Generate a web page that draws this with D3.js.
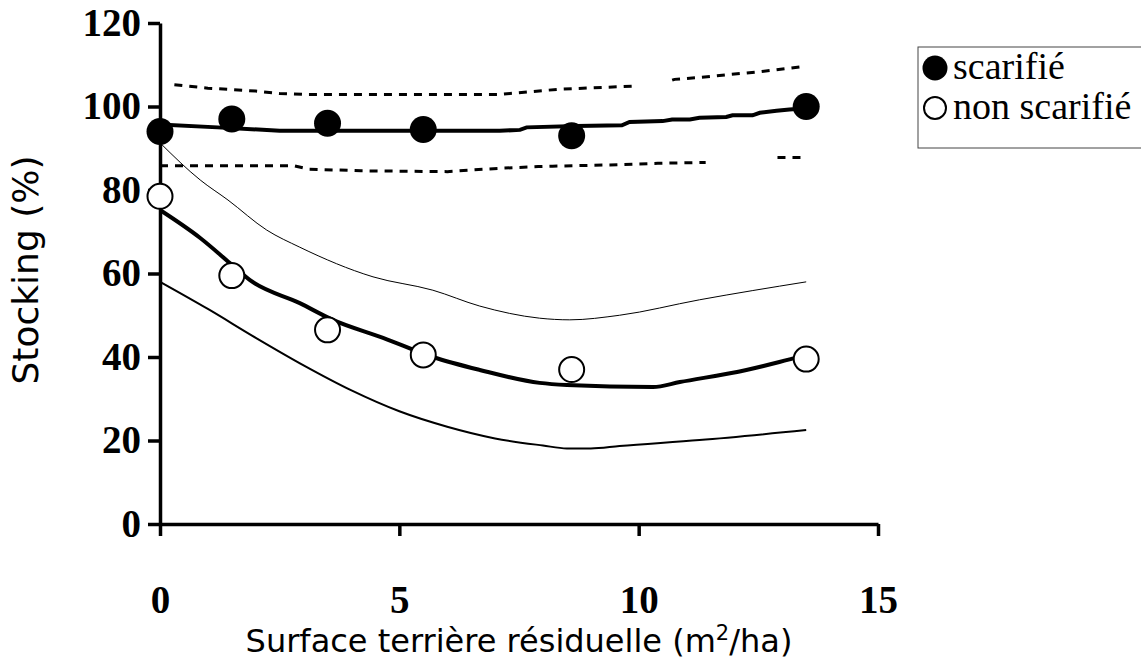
<!DOCTYPE html>
<html>
<head>
<meta charset="utf-8">
<script src="https://cdn.jsdelivr.net/npm/d3@7"></script>
<style>
  body { margin: 0; background: #fff; }
  svg { display: block; }
</style>
</head>
<body>
<div id="chart"></div>
<script>
// Observations
var xObs = [0, 1.5, 3.5, 5.5, 8.6, 13.5];
var scarObs = [94, 97, 96, 94.5, 93, 100];
var nonScarObs = [78.5, 59.5, 46.5, 40.5, 37, 39.5];

// Fit scarifié (thick)
var scarFitX = [0, 1.2, 2.5, 7.1, 7.52, 7.66, 8.7, 9.65, 9.81, 10.5, 10.7, 11.07, 11.27, 11.83, 11.96, 12.38, 12.53, 12.88, 13.15, 13.5];
var scarFitY = [95.7, 95.0, 94.2, 94.2, 94.4, 95.0, 95.3, 95.5, 96.3, 96.5, 96.9, 96.9, 97.3, 97.5, 97.9, 97.9, 98.5, 99.0, 99.3, 99.6];

// scarifié upper / lower limits (dotted), null = gap
var scarUpX = [0.3, 1.0, 2.0, 2.5, 3.0, 7.1, 8.3, 9.9, 9.95, 10.7, 10.75, 11.2, 12.5, 13.4];
var scarUpY = [105.2, 104.4, 103.7, 103.1, 102.9, 102.9, 104.1, 104.9, null, 106.3, 106.5, 106.9, 108.3, 109.5];
var scarLoX = [0, 2.8, 3.1, 4.2, 6.0, 6.5, 7.1, 7.9, 8.2, 9.4, 10.4, 11.4, 11.45, 12.9, 13.4];
var scarLoY = [85.8, 85.8, 85.0, 84.6, 84.4, 84.8, 85.2, 85.6, 85.7, 86.0, 86.4, 86.6, null, 87.8, 87.8];

// Fit non scarifié (thick)
var nonFitX = [0, 0.84, 1.46, 1.88, 2.92, 3.61, 4.66, 5.7, 6.68, 7.93, 8.5, 10.3, 10.86, 12.25, 12.94, 13.5];
var nonFitY = [75.2, 68.5, 62.5, 58.4, 52.9, 48.9, 44.6, 40.0, 36.9, 33.8, 33.3, 32.8, 34.0, 36.9, 38.8, 40.5];

// non scarifié limits
var nonUpX = [0, 0.84, 1.42, 2.23, 2.92, 4.45, 5.7, 6.68, 7.93, 8.56, 9.6, 11.27, 13.5];
var nonUpY = [91.3, 82.4, 77.6, 70.4, 66.3, 59.2, 56.0, 52.2, 49.3, 48.9, 50.0, 53.7, 58.0];
var nonLoX = [0, 1, 2, 3, 4, 5, 6, 7, 8, 8.5, 9, 9.6, 11.27, 13.5];
var nonLoY = [58.0, 51.5, 44.6, 38.0, 32.0, 27.0, 23.3, 20.5, 18.8, 18.1, 18.1, 18.7, 20.1, 22.5];

var xTicks = [0, 5, 10, 15];
var yTicks = [0, 20, 40, 60, 80, 100, 120];
var legendLabels = ["scarifié", "non scarifié"];

var width = 1141, height = 662;

var svg = d3.select("#chart").append("svg")
  .attr("width", width)
  .attr("height", height);

var x = d3.scaleLinear().domain([0, 15]).range([160, 878]);
var y = d3.scaleLinear().domain([0, 120]).range([524, 23]);

function pairs(xs, ys) {
  return xs.map(function(d, i) { return [d, ys[i]]; });
}

var line = d3.line()
  .defined(function(d) { return d[1] !== null; })
  .x(function(d) { return x(d[0]); })
  .y(function(d) { return y(d[1]); });

// Axes
var yAxis = d3.axisLeft(y).tickValues(yTicks).tickSize(12).tickSizeOuter(0).tickPadding(7);
var xAxis = d3.axisBottom(x).tickValues(xTicks).tickSize(12).tickSizeOuter(0).tickPadding(49);

var yAxisG = svg.append("g").attr("transform", "translate(160,0)").call(yAxis);
var xAxisG = svg.append("g").attr("transform", "translate(0,524)").call(xAxis);

[yAxisG, xAxisG].forEach(function(g) {
  g.select(".domain").attr("stroke", "#000").attr("stroke-width", 3.5);
  g.selectAll(".tick line").attr("stroke", "#000").attr("stroke-width", 3.5);
  g.selectAll(".tick text")
    .attr("fill", "#000")
    .style("font-family", "'Liberation Serif', 'Times New Roman', serif")
    .style("font-weight", "bold")
    .style("font-size", "39px");
});

// lines
svg.append("path").datum(pairs(scarUpX, scarUpY))
  .attr("d", line).attr("fill", "none").attr("stroke", "#000")
  .attr("stroke-width", 3).attr("stroke-dasharray", "8,7");
svg.append("path").datum(pairs(scarLoX, scarLoY))
  .attr("d", line).attr("fill", "none").attr("stroke", "#000")
  .attr("stroke-width", 3).attr("stroke-dasharray", "8,7");

svg.append("path").datum(pairs(nonUpX, nonUpY))
  .attr("d", line.curve(d3.curveMonotoneX)).attr("fill", "none").attr("stroke", "#000")
  .attr("stroke-width", 1);
svg.append("path").datum(pairs(nonLoX, nonLoY))
  .attr("d", line.curve(d3.curveMonotoneX)).attr("fill", "none").attr("stroke", "#000")
  .attr("stroke-width", 2);
svg.append("path").datum(pairs(nonFitX, nonFitY))
  .attr("d", line.curve(d3.curveMonotoneX)).attr("fill", "none").attr("stroke", "#000")
  .attr("stroke-width", 4);

line.curve(d3.curveLinear);
svg.append("path").datum(pairs(scarFitX, scarFitY))
  .attr("d", line).attr("fill", "none").attr("stroke", "#000")
  .attr("stroke-width", 4);

// points
svg.selectAll("circle.scar").data(pairs(xObs, scarObs)).enter().append("circle")
  .attr("class", "scar")
  .attr("cx", function(d) { return x(d[0]); })
  .attr("cy", function(d) { return y(d[1]); })
  .attr("r", 13.5)
  .attr("fill", "#000");

svg.selectAll("circle.non").data(pairs(xObs, nonScarObs)).enter().append("circle")
  .attr("class", "non")
  .attr("cx", function(d) { return x(d[0]); })
  .attr("cy", function(d) { return y(d[1]); })
  .attr("r", 12.5)
  .attr("fill", "#fff")
  .attr("stroke", "#000")
  .attr("stroke-width", 2);

// axis titles
svg.append("text")
  .attr("transform", "translate(38,270) rotate(-90)")
  .attr("text-anchor", "middle")
  .style("font-family", "'DejaVu Sans', Verdana, sans-serif")
  .style("font-size", "36px")
  .text("Stocking (%)");

var xt = svg.append("text")
  .attr("x", 519)
  .attr("y", 652)
  .attr("text-anchor", "middle")
  .style("font-family", "'DejaVu Sans', Verdana, sans-serif")
  .style("font-size", "32px");
xt.append("tspan").text("Surface terrière résiduelle (m");
xt.append("tspan").attr("dy", -12).style("font-size", "21px").text("2");
xt.append("tspan").attr("dy", 12).text("/ha)");

// legend
var leg = svg.append("g");
leg.append("rect")
  .attr("x", 918).attr("y", 47)
  .attr("width", 240).attr("height", 101)
  .attr("fill", "#fff").attr("stroke", "#444").attr("stroke-width", 1);
legendLabels.forEach(function(lab, i) {
  var cy = 68 + i * 40;
  leg.append("circle")
    .attr("cx", 935).attr("cy", cy)
    .attr("r", i === 0 ? 12.5 : 11)
    .attr("fill", i === 0 ? "#000" : "#fff")
    .attr("stroke", "#000").attr("stroke-width", i === 0 ? 0 : 2);
  leg.append("text")
    .attr("x", 953).attr("y", cy + 11)
    .style("font-family", "'Liberation Serif', 'Times New Roman', serif")
    .style("font-size", "38px")
    .text(lab);
});
</script>
</body>
</html>
